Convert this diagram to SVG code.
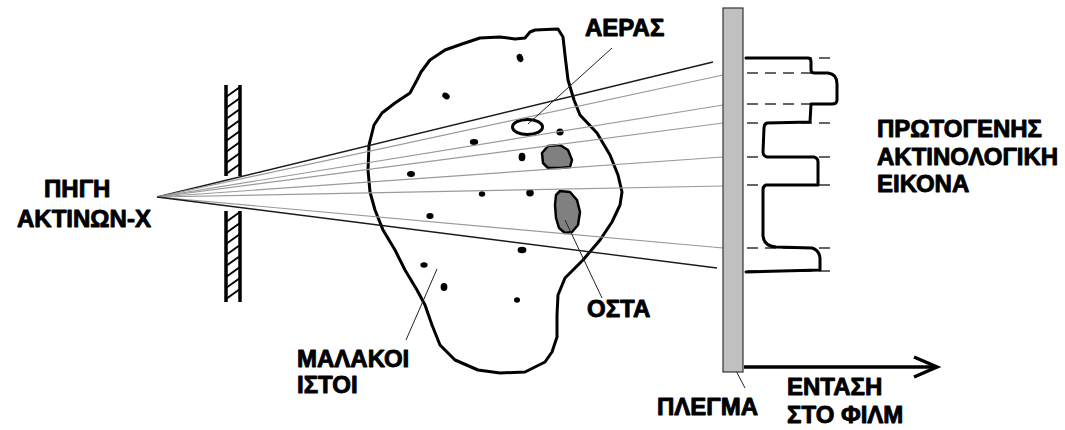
<svg xmlns="http://www.w3.org/2000/svg" width="1065" height="430" viewBox="0 0 1065 430">
  <style>
    .lbl { font-family: "Liberation Sans", Arial, sans-serif; font-weight: 700; font-size: 24px; fill: #000; stroke: #000; stroke-width: 0.9; stroke-linejoin: round; }
    .ray-edge { stroke: #1a1a1a; stroke-width: 1.4; fill: none; }
    .ray { stroke: #9a9a9a; stroke-width: 1.2; fill: none; }
    .leader { stroke: #222; stroke-width: 1; fill: none; }
    .thick { stroke: #000; stroke-width: 3; fill: none; stroke-linejoin: round; stroke-linecap: round; }
    .dash { stroke: #333; stroke-width: 1.3; stroke-dasharray: 11 7; fill: none; }
    .dot { fill: #000; }
    .bone { fill: #808080; stroke: #000; stroke-width: 2.5; stroke-linejoin: round; }
    .rail { stroke: #000; stroke-width: 3.5; }
    .hatch { stroke: #000; stroke-width: 2; }
  </style>

  <!-- X-ray source label -->
  <g id="source">
    <text class="lbl" x="44" y="197">ΠΗΓΗ</text>
    <text class="lbl" x="17" y="227">ΑΚΤΙΝΩΝ-Χ</text>
  </g>

  <!-- collimator: two hatched ladder sections with an opening -->
  <g id="collimator">
    <line class="rail" x1="226" y1="85" x2="226" y2="176"/>
    <line class="rail" x1="240" y1="85" x2="240" y2="176"/>
    <line class="rail" x1="226" y1="211" x2="226" y2="302"/>
    <line class="rail" x1="240" y1="211" x2="240" y2="302"/>
    <g class="hatch">
      <line x1="226" y1="97" x2="240" y2="87"/>
      <line x1="226" y1="108" x2="240" y2="98"/>
      <line x1="226" y1="119" x2="240" y2="109"/>
      <line x1="226" y1="130" x2="240" y2="120"/>
      <line x1="226" y1="141" x2="240" y2="131"/>
      <line x1="226" y1="152" x2="240" y2="142"/>
      <line x1="226" y1="163" x2="240" y2="153"/>
      <line x1="226" y1="174" x2="240" y2="164"/>
      <line x1="226" y1="222" x2="240" y2="212"/>
      <line x1="226" y1="233" x2="240" y2="223"/>
      <line x1="226" y1="244" x2="240" y2="234"/>
      <line x1="226" y1="255" x2="240" y2="245"/>
      <line x1="226" y1="266" x2="240" y2="256"/>
      <line x1="226" y1="277" x2="240" y2="267"/>
      <line x1="226" y1="288" x2="240" y2="278"/>
      <line x1="226" y1="299" x2="240" y2="289"/>
    </g>
  </g>

  <!-- patient: soft tissue outline with small dense spots -->
  <g id="soft-tissue">
    <path class="thick" d="M535,30 L558,29 L563,37 L565,55 L568,80 L574,100 L580,115 L597,133 L610,155 L618,175 L622,192 L620,205 L612,222 L600,240 L583,260 L565,278 L558,295 L557,315 L557,337 L552,352 L545,362 L525,372 L500,373 L478,370 L455,360 L440,345 L432,325 L425,305 L417,290 L405,270 L395,250 L383,230 L375,210 L370,192 L368,170 L369,145 L374,125 L382,113 L395,103 L410,93 L417,80 L421,72 L430,60 L445,50 L462,44 L480,38 L500,37 L515,39 L525,38 L530,32 Z"/>
    <g class="dot">
      <ellipse cx="520" cy="58" rx="3.2" ry="4.2" transform="rotate(-20 520 58)"/>
      <ellipse cx="446" cy="96" rx="4" ry="3" transform="rotate(35 446 96)"/>
      <ellipse cx="560" cy="132" rx="3.6" ry="3.6"/>
      <ellipse cx="474" cy="142" rx="4.2" ry="3"/>
      <ellipse cx="522" cy="157" rx="3.4" ry="4.2"/>
      <ellipse cx="411" cy="174" rx="4" ry="3"/>
      <ellipse cx="482" cy="194" rx="3.2" ry="2.8"/>
      <ellipse cx="530" cy="193" rx="3.8" ry="3.4"/>
      <ellipse cx="430" cy="216" rx="3.6" ry="3"/>
      <ellipse cx="522" cy="250" rx="4.4" ry="3.2"/>
      <ellipse cx="424" cy="265" rx="3.6" ry="2.8"/>
      <ellipse cx="444" cy="287" rx="3.4" ry="4"/>
      <ellipse cx="517" cy="300" rx="3" ry="2.8"/>
    </g>
  </g>

  <g id="air">
    <ellipse cx="527.5" cy="127" rx="15" ry="7.5" fill="#fff" stroke="#000" stroke-width="3"/>
  </g>

  <g id="bone">
    <path class="bone" d="M548,146 L560,145 L568,150 L572,160 L570,167 L560,168 L548,168 L543,163 L542,153 Z"/>
    <path class="bone" d="M560,191 L570,192 L577,200 L580,212 L578,225 L572,232 L565,233 L559,228 L556,218 L555,205 L556,195 Z"/>
  </g>

  <!-- fan of rays from the source to the film, plus leaders and the axis -->
  <g id="connectors">
    <line class="ray-edge" x1="157" y1="197" x2="713" y2="62"/>
    <line class="ray" x1="157" y1="197" x2="723" y2="75"/>
    <line class="ray" x1="157" y1="197" x2="723" y2="105"/>
    <line class="ray" x1="157" y1="197" x2="723" y2="123"/>
    <line class="ray" x1="157" y1="197" x2="723" y2="157"/>
    <line class="ray" x1="157" y1="197" x2="723" y2="186"/>
    <line class="ray" x1="157" y1="197" x2="723" y2="248"/>
    <line class="ray-edge" x1="157" y1="197" x2="717" y2="268"/>

    <!-- label leaders -->
    <line class="leader" x1="612" y1="48" x2="528" y2="124"/>
    <line class="leader" x1="565" y1="220" x2="602" y2="298"/>
    <line class="leader" x1="437" y1="269" x2="406" y2="340"/>
    <line class="leader" x1="733" y1="365" x2="745" y2="388"/>

    <!-- intensity axis -->
    <line x1="744" y1="367" x2="936" y2="367" stroke="#000" stroke-width="3.5"/>
    <polyline points="914,357 937,367 914,377" fill="none" stroke="#000" stroke-width="3.5" stroke-linejoin="miter"/>
  </g>

  <!-- film / grid plate -->
  <g id="film">
    <rect x="723" y="8" width="20" height="364" fill="#c0c0c0" stroke="#333" stroke-width="1.2"/>
  </g>

  <!-- intensity profile on the film -->
  <g id="profile">
    <line class="dash" x1="747" y1="58" x2="831" y2="58"/>
    <line class="dash" x1="747" y1="73" x2="831" y2="73"/>
    <line class="dash" x1="747" y1="104" x2="831" y2="104"/>
    <line class="dash" x1="747" y1="123" x2="831" y2="123"/>
    <line class="dash" x1="747" y1="157" x2="831" y2="157"/>
    <line class="dash" x1="747" y1="185" x2="831" y2="185"/>
    <line class="dash" x1="747" y1="248" x2="831" y2="248"/>
    <line class="dash" x1="747" y1="271" x2="831" y2="271"/>
    <path class="thick" d="M746,58 L808,58 Q811,58 811,62 L811,70 Q811,73 815,73 L828,73 Q837,74 837,84 L837,100 Q837,104 832,104 L811,104 L810,122 L767,123 Q764,124 764,128 L763,152 Q763,156 767,157 L814,157 Q818,158 818,162 L818,185 L766,185 Q763,186 763,190 L763,236 Q764,246 776,247 L812,248 Q819,250 820,258 L820,270 L746,272"/>
  </g>

  <g id="labels">
    <text class="lbl" x="585" y="36">ΑΕΡΑΣ</text>
    <text class="lbl" x="587" y="317">ΟΣΤΑ</text>
    <text class="lbl" x="297" y="367">ΜΑΛΑΚΟΙ</text>
    <text class="lbl" x="297" y="393">ΙΣΤΟΙ</text>
    <text class="lbl" x="657" y="415">ΠΛΕΓΜΑ</text>
    <text class="lbl" x="787" y="395">ΕΝΤΑΣΗ</text>
    <text class="lbl" x="787" y="423">ΣΤΟ ΦΙΛΜ</text>
    <text class="lbl" x="877" y="137">ΠΡΩΤΟΓΕΝΗΣ</text>
    <text class="lbl" x="877" y="165">ΑΚΤΙΝΟΛΟΓΙΚΗ</text>
    <text class="lbl" x="877" y="192">ΕΙΚΟΝΑ</text>
  </g>
</svg>
